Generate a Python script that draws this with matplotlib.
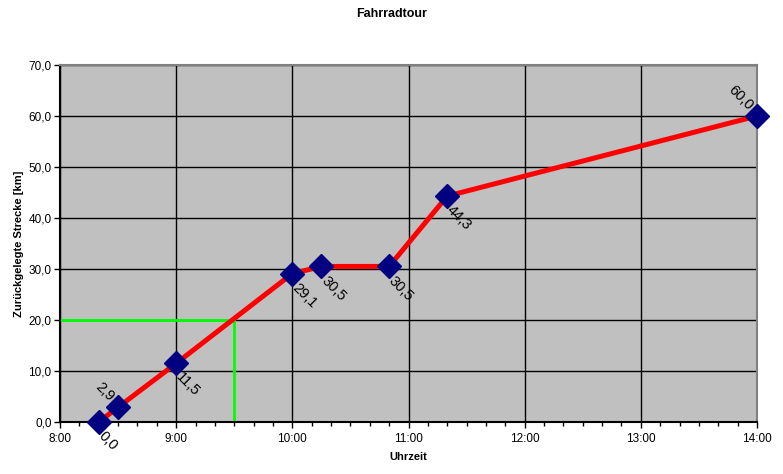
import matplotlib
matplotlib.use('Agg')
import matplotlib.pyplot as plt
from matplotlib.ticker import FuncFormatter, MultipleLocator

plt.rcParams['font.family'] = ['Liberation Sans', 'DejaVu Sans']

uhrzeit = ['8:20', '8:30', '9:00', '10:00', '10:15', '10:50', '11:20', '14:00']
strecke = [0.0, 2.9, 11.5, 29.1, 30.5, 30.5, 44.3, 60.0]
label_oben = [False, True, False, False, False, False, False, True]

# Ablesehilfe: 20 km um 9:30
hilfe_zeit = '9:30'
hilfe_km = 20.0


def in_stunden(t):
    h, m = t.split(':')
    return int(h) + int(m) / 60


x = [in_stunden(t) for t in uhrzeit]
hx = in_stunden(hilfe_zeit)

fig = plt.figure(figsize=(7.83, 4.74), dpi=100)
ax = fig.add_axes([60 / 783, 1 - 422 / 474, 697 / 783, 357 / 474])
ax.set_facecolor('#c0c0c0')

ax.plot([8, hx], [hilfe_km, hilfe_km], color='#00ff00', lw=2, zorder=2)
ax.plot([hx, hx], [0, hilfe_km], color='#00ff00', lw=2, zorder=2)
ax.plot(x, strecke, color='#ff0000', lw=3.6, zorder=3,
        marker='D', markersize=12, markerfacecolor='#000080',
        markeredgecolor='#000080', clip_on=False)

for xi, yi, oben in zip(x, strecke, label_oben):
    txt = f'{yi:.1f}'.replace('.', ',')
    if oben:
        ax.annotate(txt, (xi, yi), xytext=(-8, 2), textcoords='offset points',
                    rotation=-45, rotation_mode='anchor', ha='right', va='bottom',
                    fontsize=10.5, zorder=4)
    else:
        ax.annotate(txt, (xi, yi), xytext=(5, -5), textcoords='offset points',
                    rotation=-45, rotation_mode='anchor', ha='left', va='top',
                    fontsize=10.5, zorder=4, annotation_clip=False)

ax.set_xlim(8, 14)
ax.set_ylim(0, 70)
ax.xaxis.set_major_locator(MultipleLocator(1))
ax.xaxis.set_minor_locator(MultipleLocator(1 / 6))
ax.yaxis.set_major_locator(MultipleLocator(10))
ax.xaxis.set_major_formatter(FuncFormatter(lambda v, p: f'{int(round(v))}:00'))
ax.yaxis.set_major_formatter(FuncFormatter(lambda v, p: f'{v:.1f}'.replace('.', ',')))
ax.grid(True, which='major', color='black', lw=1)
ax.set_axisbelow(True)
ax.tick_params(which='major', direction='out', length=4, width=1, labelsize=8.5, colors='black')
ax.tick_params(which='minor', direction='out', length=3, width=1)
ax.tick_params(axis='x', pad=4)
ax.tick_params(axis='y', pad=2)
for s in ['top', 'right']:
    ax.spines[s].set_color('#808080')
    ax.spines[s].set_linewidth(1.5)
for s in ['left', 'bottom']:
    ax.spines[s].set_color('black')
    ax.spines[s].set_linewidth(1.5)

ax.set_xlabel('Uhrzeit', fontsize=8, fontweight='bold', labelpad=5)
ax.set_ylabel('Zurückgelegte Strecke [km]', fontsize=8, fontweight='bold', labelpad=3)
fig.text(0.5, 1 - 14 / 474, 'Fahrradtour', ha='center', va='center',
         fontsize=9, fontweight='bold')

fig.savefig('out.png', dpi=100)
